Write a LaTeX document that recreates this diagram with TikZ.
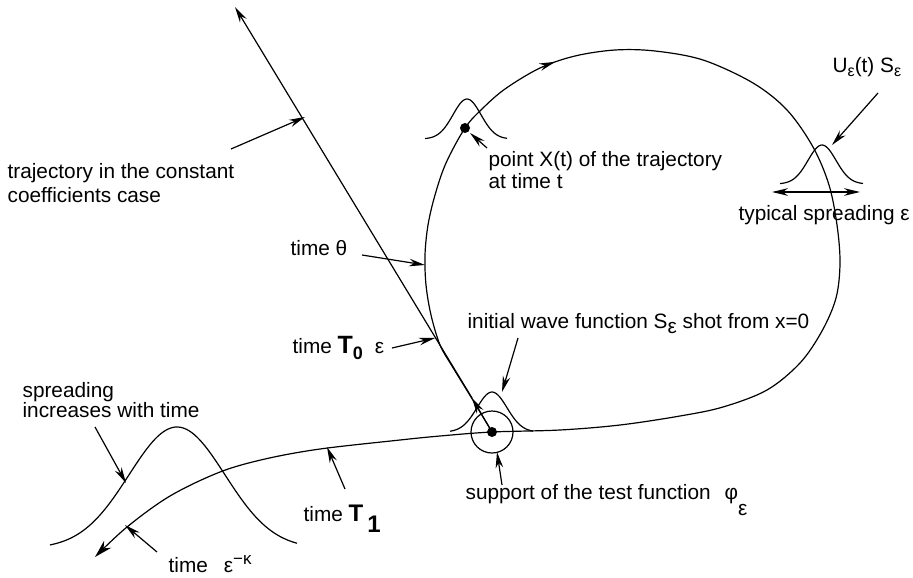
\documentclass[tikz,border=0pt]{standalone}
\usepackage{fontspec}
\setmainfont{Liberation Sans}
\usetikzlibrary{arrows.meta,decorations.markings}
\begin{document}
\begin{tikzpicture}[x=0.5pt,y=-0.5pt, line width=0.6pt,
  tip/.style={-{Stealth[length=8pt,width=3.8pt]}},
  lbl/.style={anchor=base west, inner sep=0pt, font=\fontsize{10.4}{12}\selectfont}]
\useasboundingbox (0,0) rectangle (913,577);

% key points
\coordinate (O) at (492,432);
\coordinate (X) at (465,128);
\coordinate (top) at (235,7);
\coordinate (mid) at (472,398);

% straight trajectory (constant coefficients)
\draw[tip] (O) -- (mid);
\draw[tip] (mid) -- (top);

% true trajectory
\draw[-{Stealth[length=9pt,width=5pt]}, postaction={decorate},
  decoration={markings, mark=at position 0.257 with {\arrow{Stealth[length=8pt,width=3.8pt]}}}]
  plot[smooth, tension=0.55] coordinates {
  (492,432) (471,397) (452,366) (440,345) (431,315) (426,285) (425,255) (428,225)
  (435,195) (446,163) (465,128) (482,109) (505,89) (540,68) (575,56) (615,50)
  (655,51) (703,60) (753,83) (787,110) (813,147) (829,185) (837,225) (840,263)
  (836,298) (822,331) (800,363) (767,390) (723,407) (680,416) (620,425) (560,430)
  (492,432) (440,436) (400,440) (320,449) (265,459) (220,472) (170,496) (127,527)
  (95,557)};

% dots and support circle
\fill (O) circle (5);
\draw (O) circle (21);
\fill (X) circle (5);

% wave packets
\draw plot[domain=450:533, samples=50] (\x, {432-40*exp(-0.5*((\x-492)/15)^2)});
\draw plot[domain=425:507, samples=50] (\x, {139-40*exp(-0.5*((\x-467)/14)^2)});
\draw plot[domain=780:863, samples=50] (\x, {184-39*exp(-0.5*((\x-822)/14)^2)});
\draw plot[domain=50:297, samples=90] (\x, {548.6-121.6*exp(-0.5*((\x-177)/48)^2)});

% labels
\node[lbl] (Ltraj) at (7,178) {\begin{tabular}[t]{@{}l@{}}trajectory in the constant\\coefficients case\end{tabular}};
\node[lbl] (Ltheta) at (290,255) {time θ};
\node[lbl] (LTzero) at (292,353) {time {\bfseries\fontsize{12.5}{13}\selectfont T}\raisebox{-3pt}{\bfseries\fontsize{9}{10}\selectfont 0}\hspace{6pt}ε};
\node[lbl] (Lspread) at (22,397) {\begin{tabular}[t]{@{}l@{}}spreading\\[-2pt]increases with time\end{tabular}};
\node[lbl] (LTone) at (303,521) {time {\bfseries\fontsize{12}{13}\selectfont T\hspace{2pt}\raisebox{-5.5pt}{1}}};
\node[lbl] (Leps) at (168,572) {time\hspace{8pt}ε\raisebox{4pt}{\fontsize{8.5}{9}\selectfont −κ}};
\node[lbl] (Linit) at (467,328) {initial wave function S\raisebox{-2.5pt}{ε} shot from x=0};
\node[lbl] (Lsupp) at (465,499) {support of the test function\hspace{7pt}φ\raisebox{-8pt}{ε}};
\node[lbl] (Lpoint) at (488,167) {\begin{tabular}[t]{@{}l@{}}point X(t) of the trajectory\\[-1pt]at time t\end{tabular}};
\node[lbl] (LU) at (832,73) {U\raisebox{-2pt}{\fontsize{8}{8}\selectfont ε}(t) S\raisebox{-2pt}{\fontsize{8}{8}\selectfont ε}};
\node[lbl] (Ltyp) at (738,220) {typical spreading ε};

% label arrows
\coordinate (a1s) at (231,149); \coordinate (a1e) at (305,117);
\coordinate (a2s) at (362,255); \coordinate (a2e) at (425,265);
\coordinate (a3s) at (392,348); \coordinate (a3e) at (435,338);
\coordinate (a4s) at (95,427);  \coordinate (a4e) at (126,483);
\coordinate (a5s) at (345,489); \coordinate (a5e) at (327,447);
\coordinate (a6s) at (157,552); \coordinate (a6e) at (125,525);
\coordinate (a7s) at (518,338); \coordinate (a7e) at (502,392);
\coordinate (a8s) at (502,485); \coordinate (a8e) at (497,452);
\coordinate (a9s) at (487,148); \coordinate (a9e) at (470,133);
\coordinate (a10s) at (878,93); \coordinate (a10e) at (832,145);
\coordinate (a11s) at (772,192); \coordinate (a11e) at (860,192);

\draw[tip] (a1s) -- (a1e);
\draw[tip] (a2s) -- (a2e);
\draw[tip] (a3s) -- (a3e);
\draw[tip] (a4s) -- (a4e);
\draw[tip] (a5s) -- (a5e);
\draw[tip] (a6s) -- (a6e);
\draw[tip] (a7s) -- (a7e);
\draw[tip] (a8s) -- (a8e);
\draw[tip] (a9s) -- (a9e);
\draw[tip] (a10s) -- (a10e);
\draw[{Stealth[length=8pt,width=3.8pt]}-{Stealth[length=8pt,width=3.8pt]}] (a11s) -- (a11e);
\end{tikzpicture}
\end{document}
